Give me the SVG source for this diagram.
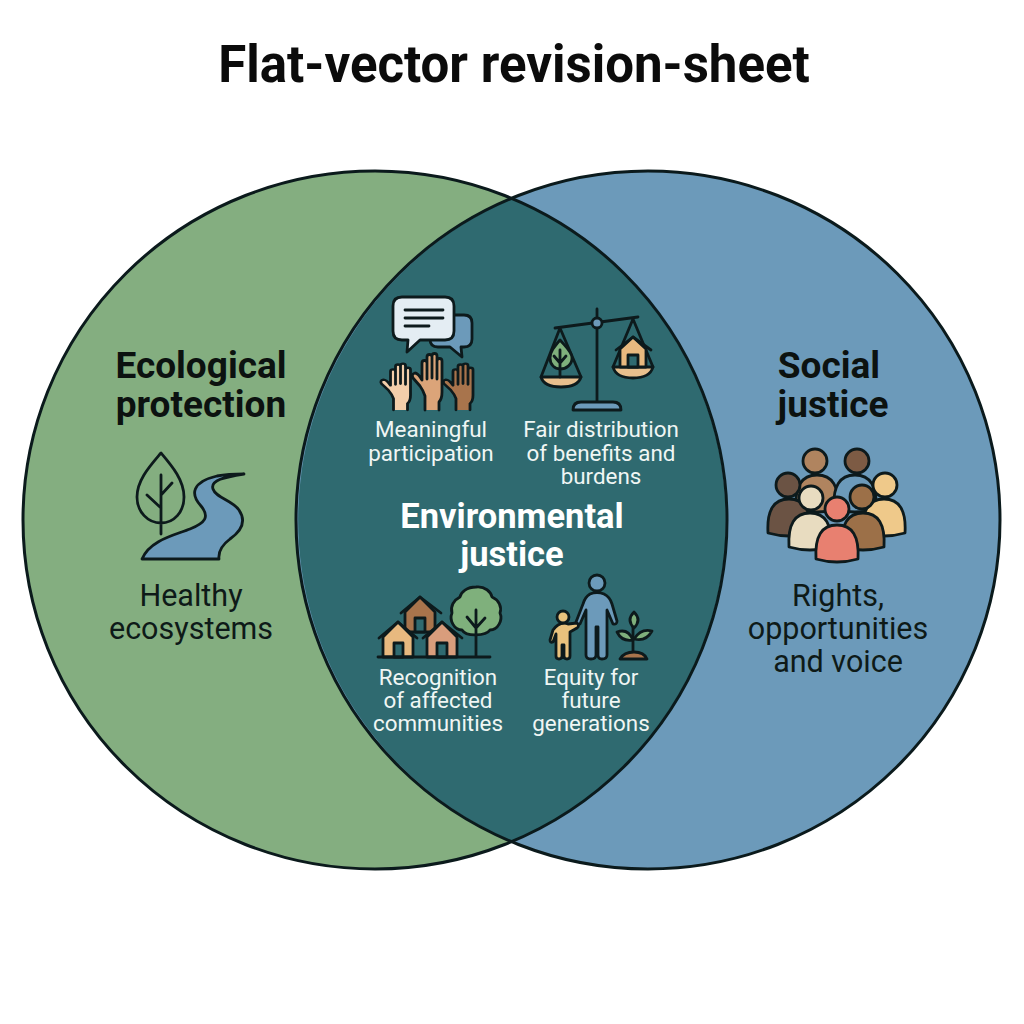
<svg xmlns="http://www.w3.org/2000/svg" width="1024" height="1024" viewBox="0 0 1024 1024">
<style>
text{font-family:Roboto,"Liberation Sans",sans-serif;text-anchor:middle}
.title{font-size:51px;font-weight:700;fill:#0b0b0b}
.head{font-size:37px;font-weight:700;fill:#0c1210}
.body{font-size:30.500px;fill:#0e1a18}
.ehead{font-size:34.500px;font-weight:700;fill:#fff}
.small{font-size:22.400px;font-weight:400;fill:#f0f6f4}
.i{stroke:#0d1a1c;stroke-width:2.800;stroke-linejoin:round;stroke-linecap:round}
.l{fill:none}
.o{fill:none;stroke:#0b1a1c;stroke-width:3}
</style>
<defs>
<path id="hand" d="M-7 0V-14Q-9-20-12-24L-19-32Q-21-36-17-37Q-14-37-10-30V-47A2.500 2.500 0 0 1-5-47V-53A2.500 2.500 0 0 1 0-53V-54A2.500 2.500 0 0 1 5-54V-49A2.500 2.500 0 0 1 10-49V-18Q10-11 7-8V0M-5-47V-31M0-53V-32M5-49V-31"/>
<path id="bust" d="M-21 17Q-23 -17 0 -17Q23 -17 21 17Q0 23 -21 17Z"/>
</defs>
<rect width="1024" height="1024" fill="#fff"/>
<text class="title" x="514" y="82">Flat-vector revision-sheet</text>
<g id="circles">
<ellipse cx="375" cy="520" rx="352" ry="349" fill="#84ae80"/>
<ellipse cx="648" cy="520" rx="352" ry="349" fill="#6c9aba"/>
<path d="M512 199A352 349 0 0 1 512 841A352 349 0 0 1 512 199Z" fill="#2f6a70"/>
<ellipse class="o" cx="375" cy="520" rx="352" ry="349"/>
<ellipse class="o" cx="648" cy="520" rx="352" ry="349"/>
</g>
<g id="ecological-protection">
<text class="head" x="201" y="378">Ecological</text>
<text class="head" x="201" y="417">protection</text>
<path class="i" fill="#6c9aba" d="M142 559C150 540 175 535 190 529C205 523 210 517 201 506C190 494 192 482 217 476C228 474 236 474 244 474C225 477 210 480 213 489C216 498 232 500 239 510C247 522 240 532 230 539C222 545 218 551 219 559Z"/>
<path class="i l" d="M161 453C150 466 137 480 137 497C137 512 148 523 161 523C174 523 184 512 184 497C184 480 172 466 161 453ZM161 475V534M147 495L161 508M172 483L161 495"/>
<text class="body" x="191" y="606">Healthy</text>
<text class="body" x="191" y="639">ecosystems</text>
</g>
<g id="social-justice">
<text class="head" x="829" y="378">Social</text>
<text class="head" x="833" y="417">justice</text>
<g class="i">
<use href="#bust" x="817" y="492" fill="#b0845f"/><circle cx="815" cy="461" r="12" fill="#b0845f"/>
<use href="#bust" x="855" y="492" fill="#6c9aba"/><circle cx="857" cy="461" r="12" fill="#7d5b44"/>
<use href="#bust" x="789" y="516" fill="#6b5344"/><circle cx="788" cy="485" r="12" fill="#6b5344"/>
<use href="#bust" x="884" y="516" fill="#efc98a"/><circle cx="885" cy="485" r="12" fill="#efc98a"/>
<use href="#bust" x="810" y="530" fill="#e8dcc0"/><circle cx="811" cy="498" r="12" fill="#e8dcc0"/>
<use href="#bust" x="863" y="530" fill="#9c7048"/><circle cx="862" cy="497" r="12" fill="#9c7048"/>
<use href="#bust" x="837" y="542" fill="#e88070"/><circle cx="837" cy="509" r="12" fill="#e88070"/>
</g>
<text class="body" x="838" y="606">Rights,</text>
<text class="body" x="838" y="639">opportunities</text>
<text class="body" x="838" y="672">and voice</text>
</g>
<g id="meaningful-participation">
<path class="i" fill="#6c9aba" d="M440 315H464Q472 315 472 323V339Q472 347 464 347H461L462 357L450 347H438Q430 347 430 339V323Q430 315 440 315Z"/>
<path class="i" fill="#e4edf3" d="M402 297H445Q454 297 454 306V331Q454 340 445 340H420L407 352L408 340H402Q393 340 393 331V306Q393 297 402 297Z"/>
<path class="i l" d="M405 310H443M405 318H443M405 326H429"/>
<use class="i" href="#hand" transform="translate(400.500 410) scale(1 .82)" fill="#f2ceaa"/>
<use class="i" href="#hand" transform="translate(432 410)" fill="#dba479"/>
<use class="i" href="#hand" transform="translate(463 410) scale(1 .82)" fill="#a8744c"/>
<text class="small" x="431" y="437">Meaningful</text>
<text class="small" x="431" y="461">participation</text>
</g>
<g id="fair-distribution">
<path class="i l" d="M597 309V402M555 328L638 317M541 377L560 328L581 377M613 367L633 319L653 367"/>
<circle class="i" cx="597" cy="323" r="5" fill="#6c9aba"/>
<path class="i" fill="#6c9aba" d="M573 410Q573 402 581 402H613Q621 402 621 410Z"/>
<path class="i" fill="#e8c08e" d="M541 377H581Q578 387 561 387Q544 387 541 377Z"/>
<path class="i" fill="#7fb07c" d="M560 340C554 347 550 352 550 358C550 365 555 369 560 369C566 369 572 365 572 358C572 352 566 347 560 340Z"/>
<path class="i l" d="M560 350V377M554 356L560 363M566 356L560 363"/>
<path class="i" fill="#e8c08e" d="M613 367H653Q650 378 633 378Q616 378 613 367Z"/>
<path class="i" fill="#e8b97f" d="M620 349L633 337L646 349V367H620Z"/>
<path class="i l" d="M616 350L633 337L651 350"/>
<path class="i" fill="#2f6a70" d="M628 367V355H638V367Z"/>
<text class="small" x="601" y="437">Fair distribution</text>
<text class="small" x="601" y="461">of benefits and</text>
<text class="small" x="601" y="484">burdens</text>
</g>
<g id="environmental-justice">
<text class="ehead" x="512" y="528">Environmental</text>
<text class="ehead" x="512" y="566">justice</text>
</g>
<g id="recognition">
<path class="i" fill="#a8744c" d="M405 632V612L420 597L435 612V632Z"/>
<path class="i l" d="M401 613L420 597L441 613"/>
<path class="i" fill="#2f6a70" d="M415 632V618H425V632Z"/>
<path class="i" fill="#e8b97f" d="M383 657V637L398 622L413 637V657Z"/>
<path class="i l" d="M379 638L398 622L417 638"/>
<path class="i" fill="#2f6a70" d="M394 657V643H403V657Z"/>
<path class="i" fill="#d99d7c" d="M427 657V637L442 622L457 637V657Z"/>
<path class="i l" d="M423 638L442 622L462 638"/>
<path class="i" fill="#2f6a70" d="M437 657V643H447V657Z"/>
<path class="i" fill="#7fb07c" d="M476 587C485 586 491 592 492 597C499 600 502 607 500 613C503 620 498 630 490 630C486 636 466 637 462 630C454 630 449 620 452 613C450 606 454 600 460 597C461 592 467 587 476 587Z"/>
<path class="i l" d="M476 610V657M467 617L476 628M485 618L476 628M378 657H490"/>
<text class="small" x="438" y="685">Recognition</text>
<text class="small" x="438" y="708">of affected</text>
<text class="small" x="438" y="731">communities</text>
</g>
<g id="equity">
<path class="i" fill="#6c9aba" d="M590 594Q597 591 604 594Q610 597 612 604L617 621Q617 625 613 624L607 610V655Q607 659 602 659Q598 659 598 655V627H596V655Q596 659 591 659Q586 659 586 655V610L580 624Q577 625 576 622L583 604Q585 597 590 594Z"/>
<circle class="i" cx="597" cy="583" r="8" fill="#6c9aba"/>
<path class="i" fill="#e9c27d" d="M558 625Q563 622 568 624L577 623Q580 626 577 628L570 632V656Q570 659 567 659Q564 659 564 656V645H562V656Q562 659 559 659Q556 659 556 656V634L553 642Q550 643 550 640L553 630Q555 627 558 625Z"/>
<circle class="i" cx="563" cy="617" r="6" fill="#e9c27d"/>
<path class="i l" d="M633 626V652"/>
<path class="i" fill="#7fb07c" d="M634 612Q642 620 634 628Q626 620 634 612ZM617 632Q628 628 633 640Q622 642 617 632ZM652 631Q641 628 634 639Q646 642 652 631Z"/>
<path class="i" fill="#a8744c" d="M620 659Q624 652 634 652Q644 652 647 659Z"/>
<text class="small" x="591" y="685">Equity for</text>
<text class="small" x="591" y="708">future</text>
<text class="small" x="591" y="731">generations</text>
</g>
</svg>
